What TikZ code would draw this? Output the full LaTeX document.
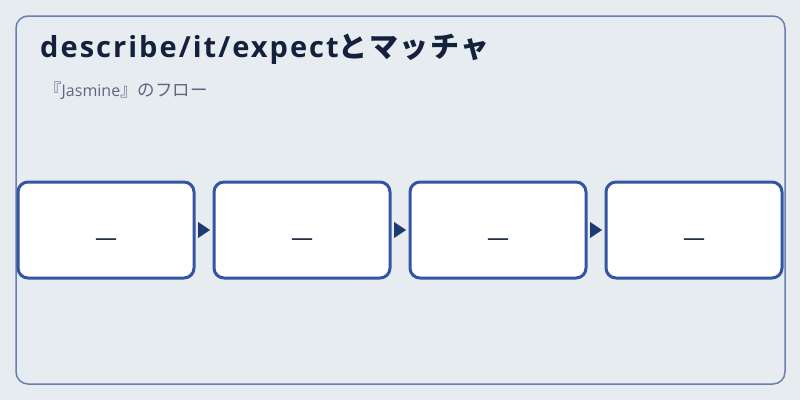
\documentclass[tikz,border=0pt]{standalone}
\usepackage{fontspec}
\setmainfont{Open Sans}
\newfontfamily\jpfont{Noto Sans CJK JP}
\newfontfamily\titlefont{Open Sans}[LetterSpace=7]
\newfontfamily\titlejp{Noto Sans CJK JP}[LetterSpace=5]
\newcommand{\subjp}[1]{{\fontsize{17.5}{17.5}\selectfont\jpfont #1}}
\usepackage{tikz}
\usetikzlibrary{arrows.meta,positioning}
\usepackage{xcolor}
\definecolor{jsbg}{HTML}{E7ECF1}
\definecolor{jsframe}{HTML}{6A7FAF}
\definecolor{jsblue}{HTML}{3456A0}
\definecolor{jsnavy}{HTML}{1E3A72}
\definecolor{jstitle}{HTML}{14213D}
\definecolor{jssub}{HTML}{5B6785}
\tikzstyle{stepbox} = [draw=jsblue, line width=3pt, fill=white, rounded corners=10pt, minimum width=176pt, minimum height=96pt, outer sep=0pt, inner sep=0pt, font=\fontsize{22}{22}\selectfont, text=jstitle, text height=30pt, text depth=0pt]
\tikzstyle{arrow} = [line width=0.2pt, jsnavy, -{Triangle[length=12pt,width=16pt]}, shorten <=4pt, shorten >=4pt]

\begin{document}
\begin{tikzpicture}[x=1pt,y=-1pt]
% Background and frame
\fill[jsbg] (0,0) rectangle (800,400);
\useasboundingbox (0,0) rectangle (800,400);
\draw[jsframe, line width=1.5pt, rounded corners=12pt] (16,16) rectangle (785,384);

% Title
\node[anchor=base west, inner sep=0pt, text=jstitle, font=\fontsize{29}{29}\selectfont\bfseries] (title) at (40,57) {\titlefont describe/it/expect{\titlejp とマッチャ}};
\node[anchor=base west, inner sep=0pt, text=jssub, font=\fontsize{16}{16}\selectfont] (subtitle) at (44,96) {\subjp{『}Jasmine\subjp{』のフロー}};

% Flow
\node[stepbox] (box1) at (106,230) {—};
\node[stepbox, right=20pt of box1] (box2) {—};
\node[stepbox, right=20pt of box2] (box3) {—};
\node[stepbox, right=20pt of box3] (box4) {—};

\draw[arrow] (box1) -- (box2);
\draw[arrow] (box2) -- (box3);
\draw[arrow] (box3) -- (box4);
\end{tikzpicture}
\end{document}
